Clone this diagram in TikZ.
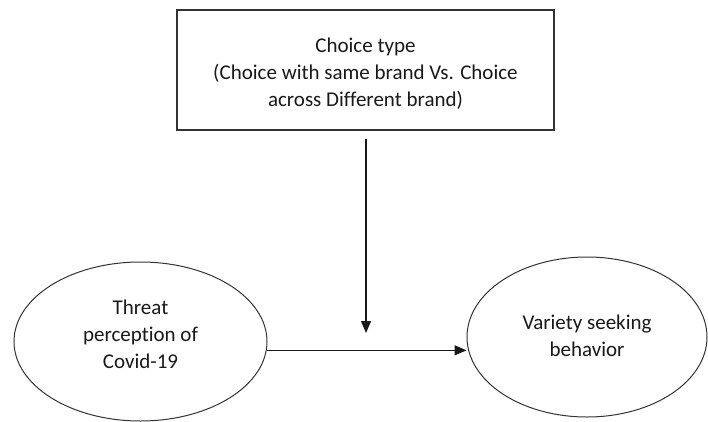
\documentclass[tikz,border=0pt]{standalone}
\usepackage{fontspec}
\setmainfont{Carlito}[Ligatures={NoCommon,NoContextual}]
\usetikzlibrary{shapes.geometric,arrows.meta,calc}
\begin{document}
\begin{tikzpicture}[x=1pt,y=-1pt,
  lbl/.style={font=\fontsize{21}{27}\selectfont, text=black!90, align=center},
  factor/.style={draw=black!80, line width=1.3pt, rectangle, inner sep=0pt,
    minimum width=377pt, minimum height=120pt},
  construct/.style={draw=black!80, line width=1pt, ellipse, inner sep=0pt},
  arr/.style={draw=black!90, line width=1.3pt, -{Triangle[length=12pt,width=10pt]}}]
\useasboundingbox (0,0) rectangle (708,422);
\fill[white] (0,0) rectangle (708,422);

% moderator box
\node[factor, label={[lbl, yshift=-3.5pt]center:{Choice type\\(Choice with same brand Vs. Choice\\across Different brand)}}] (choice) at (365.5,70) {};

% independent and dependent variables
\node[construct, minimum width=253pt, minimum height=159pt,
  label={[lbl, yshift=7pt]center:{Threat\\perception of\\Covid-19}}] (threat) at (140.5,341.5) {};
\node[construct, minimum width=240pt, minimum height=160pt,
  label={[lbl, yshift=1.5pt]center:{Variety seeking\\behavior}}] (variety) at (587,337) {};

% moderating path onto the main effect
\coordinate (hit) at (366,333);
\draw[arr] ($(choice.south)+(0.5,8)$) -- (hit);

% main effect
\draw[arr] (threat.-4.7) -- (threat.-4.7 -| variety.west);
\end{tikzpicture}
\end{document}
